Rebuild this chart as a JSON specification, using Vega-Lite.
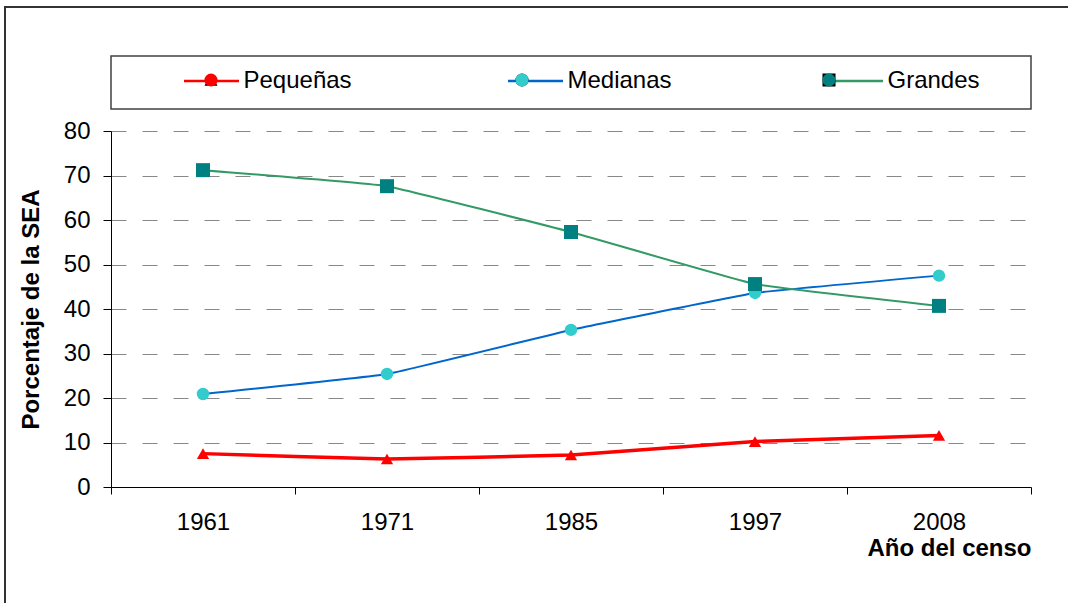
{
  "$schema": "https://vega.github.io/schema/vega-lite/v6.json",
  "autosize": {"type": "none"},
  "width": 920,
  "height": 356,
  "padding": {"left": 111, "top": 131, "right": 37, "bottom": 116},
  "background": "white",
  "config": {
    "view": {"stroke": null},
    "font": "Liberation Sans",
    "axis": {"labelFont": "Liberation Sans", "titleFont": "Liberation Sans"},
    "legend": {"labelFont": "Liberation Sans"}
  },
  "data": {
    "values": [
      {"year": "1961", "serie": "Pequeñas", "value": 7.5},
      {"year": "1971", "serie": "Pequeñas", "value": 6.3},
      {"year": "1985", "serie": "Pequeñas", "value": 7.2},
      {"year": "1997", "serie": "Pequeñas", "value": 10.2},
      {"year": "2008", "serie": "Pequeñas", "value": 11.6},
      {"year": "1961", "serie": "Medianas", "value": 20.9},
      {"year": "1971", "serie": "Medianas", "value": 25.4},
      {"year": "1985", "serie": "Medianas", "value": 35.3},
      {"year": "1997", "serie": "Medianas", "value": 43.6},
      {"year": "2008", "serie": "Medianas", "value": 47.5},
      {"year": "1961", "serie": "Grandes", "value": 71.2},
      {"year": "1971", "serie": "Grandes", "value": 67.6},
      {"year": "1985", "serie": "Grandes", "value": 57.3},
      {"year": "1997", "serie": "Grandes", "value": 45.6},
      {"year": "2008", "serie": "Grandes", "value": 40.7}
    ]
  },
  "resolve": {"scale": {"color": "independent"}, "legend": {"color": "independent"}},
  "encoding": {
    "x": {
      "field": "year", "type": "ordinal",
      "scale": {"type": "band", "paddingInner": 0, "paddingOuter": 0},
      "axis": {
        "labelAngle": 0, "tickBand": "extent", "tickSize": 7, "tickColor": "black",
        "domainColor": "black", "labelFontSize": 24, "labelColor": "black", "labelPadding": 16,
        "title": "Año del censo", "titleFontSize": 24, "titleFontWeight": "bold", "titleColor": "black",
        "titleAnchor": "end", "titlePadding": 2, "grid": false
      }
    },
    "y": {
      "field": "value", "type": "quantitative",
      "scale": {"domain": [0, 80], "nice": false},
      "axis": {
        "values": [0, 10, 20, 30, 40, 50, 60, 70, 80],
        "grid": true, "gridColor": "#888888", "gridDash": [15, 16], "gridWidth": 1,
        "tickSize": 8, "tickColor": "black", "domainColor": "black",
        "labelFontSize": 24, "labelColor": "black", "labelPadding": 13,
        "title": "Porcentaje de la SEA", "titleFontSize": 24, "titleFontWeight": "bold", "titleColor": "black",
        "titlePadding": 20
      }
    }
  },
  "layer": [
    {
      "mark": {"type": "point", "opacity": 0},
      "encoding": {
        "color": {
          "field": "value", "type": "quantitative",
          "scale": {"range": ["rgba(255,255,255,0)", "rgba(255,255,255,0)"]},
          "legend": {
            "orient": "none", "direction": "horizontal", "legendX": -106, "legendY": -124,
            "gradientLength": 1100, "gradientThickness": 620, "padding": 0, "title": null,
            "labelOpacity": 0, "labelExpr": "''", "gradientStrokeColor": "#333333", "gradientStrokeWidth": 2,
            "zindex": 0
          }
        }
      }
    },
    {
      "mark": {"type": "point", "opacity": 0},
      "encoding": {
        "color": {
          "field": "value", "type": "quantitative",
          "scale": {"range": ["#ffffff", "#ffffff"]},
          "legend": {
            "orient": "none", "direction": "horizontal", "legendX": 0, "legendY": -75,
            "gradientLength": 920, "gradientThickness": 53, "padding": 0, "title": null,
            "labelOpacity": 0, "labelExpr": "''", "gradientStrokeColor": "#404040", "gradientStrokeWidth": 1.5,
            "zindex": 1
          }
        }
      }
    },
    {
      "mark": {"type": "line", "interpolate": "cardinal", "tension": 0.75},
      "encoding": {
        "stroke": {
          "field": "serie", "type": "nominal",
          "scale": {"domain": ["Pequeñas", "Medianas", "Grandes"], "range": ["#FF0000", "#0066CC", "#339966"]},
          "legend": {
            "orient": "none", "direction": "horizontal", "columns": 3, "columnPadding": 151,
            "legendX": 70, "legendY": -79, "padding": 0, "title": null,
            "symbolType": "stroke", "symbolSize": 3025, "symbolStrokeWidth": 2.5, "symbolOffset": 1.5,
            "labelFontSize": 24, "labelColor": "black", "labelOffset": 3, "labelLimit": 300,
            "zindex": 2
          }
        },
        "strokeWidth": {"condition": {"test": "datum.serie === 'Pequeñas'", "value": 3.5}, "value": 2}
      }
    },
    {
      "transform": [{"filter": "datum.serie === 'Pequeñas'"}],
      "mark": {"type": "point", "filled": true, "opacity": 1, "size": 150},
      "encoding": {
        "fill": {
          "field": "serie", "type": "nominal",
          "sort": ["Pequeñas", "Medianas", "Grandes"],
          "scale": {"range": ["#FF0000", "#33CCCC", "#008080"]},
          "legend": {
            "orient": "none", "direction": "horizontal", "columns": 3, "columnPadding": 120,
            "legendX": 70, "legendY": -63, "padding": 0, "title": null,
            "symbolSize": 170, "symbolStrokeWidth": 0, "symbolOffset": 18, "symbolOpacity": 1,
            "labelFontSize": 24, "labelOpacity": 0, "labelOffset": 40, "labelLimit": 300,
            "zindex": 3
          }
        },
        "shape": {
          "field": "serie", "type": "nominal",
          "sort": ["Pequeñas", "Medianas", "Grandes"],
          "scale": {"range": ["triangle-up", "circle", "square"]},
          "legend": {
            "orient": "none", "direction": "horizontal", "columns": 3, "columnPadding": 120,
            "legendX": 70, "legendY": -63, "padding": 0, "title": null,
            "symbolSize": 170, "symbolStrokeWidth": 0, "symbolOffset": 18, "symbolOpacity": 1,
            "labelFontSize": 24, "labelOpacity": 0, "labelOffset": 40, "labelLimit": 300,
            "zindex": 3
          }
        }
      }
    },
    {
      "transform": [{"filter": "datum.serie === 'Medianas'"}],
      "mark": {"type": "point", "filled": true, "opacity": 1, "size": 154},
      "encoding": {
        "fill": {"field": "serie", "type": "nominal", "sort": ["Pequeñas", "Medianas", "Grandes"]},
        "shape": {"field": "serie", "type": "nominal", "sort": ["Pequeñas", "Medianas", "Grandes"]}
      }
    },
    {
      "transform": [{"filter": "datum.serie === 'Grandes'"}],
      "mark": {"type": "point", "filled": true, "opacity": 1, "size": 196},
      "encoding": {
        "fill": {"field": "serie", "type": "nominal", "sort": ["Pequeñas", "Medianas", "Grandes"]},
        "shape": {"field": "serie", "type": "nominal", "sort": ["Pequeñas", "Medianas", "Grandes"]}
      }
    }
  ]
}
